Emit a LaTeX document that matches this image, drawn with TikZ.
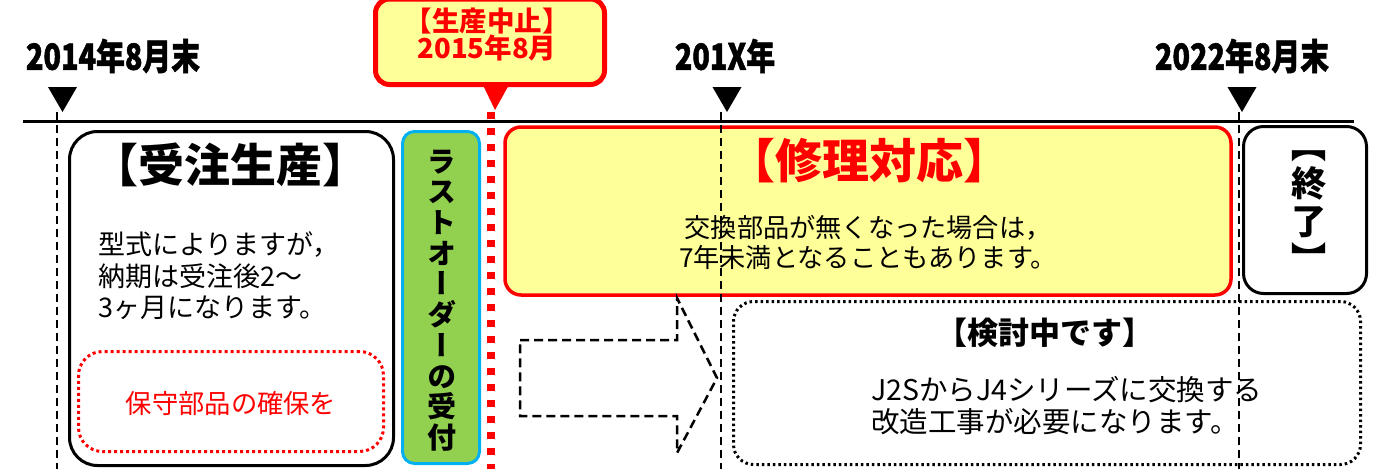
\documentclass[tikz,border=0pt]{standalone}
\usepackage{fontspec}
\setmainfont{Noto Sans CJK JP}
\newfontfamily\jpv{Noto Sans CJK JP}[RawFeature=+vert]
\newfontfamily\heavy{Noto Sans CJK JP}[BoldFeatures={FakeBold=1.6}]
\definecolor{pale}{HTML}{FFFF99}
\definecolor{grn}{HTML}{92D050}
\definecolor{sky}{HTML}{00B0F0}
\newcommand{\fsz}[1]{\fontsize{#1}{#1}\selectfont}
\begin{document}
\begin{tikzpicture}[x=1pt,y=-1pt,
  datelbl/.style={font=\heavy\fsz{36}\bfseries, inner sep=0pt},
  guide/.style={line width=1.6pt, dash pattern=on 8pt off 5pt},
  boxnode/.style={draw, line width=3pt, inner sep=0pt},
  plain/.style={inner sep=0pt}]
\useasboundingbox (0,0) rectangle (1386,469);

% date labels
\node[datelbl] (d2014) at (113,56) {\scalebox{0.8}[1]{2014年8月末}};
\node[datelbl] (d201x) at (725,56) {\scalebox{0.8}[1]{201X年}};
\node[datelbl] (d2022) at (1242,56) {\scalebox{0.8}[1]{2022年8月末}};

% markers
\coordinate (m1) at (62.5,112);
\coordinate (m2) at (727,112);
\coordinate (m3) at (1242,112);
\foreach \m in {m1,m2,m3}
  \fill (\m) -- ++(-14.5,-25) -- ++(29,0) -- cycle;

% stop callout
\node[draw=red, line width=5pt, fill=pale, rounded corners=14pt,
      minimum width=229pt, minimum height=85.5pt, inner sep=0pt] (stopbox) at (490,41.75) {};
\coordinate (stoptip) at (495,110);
\fill[red] (482,83) -- (510,83) -- (stoptip) -- cycle;
\node[plain, text=red, font=\fontsize{27.5}{27}\selectfont\bfseries, align=center] (stoptxt) at (487,35) {【生産中止】\\2015年8月};

% left box
\node[boxnode, rounded corners=28pt, minimum width=324pt, minimum height=334pt] (orderbox) at (231.5,298.5) {};
\node[plain, font=\fsz{46}\bfseries] (ordertitle) at (230,165) {【受注生産】};
\node[plain, font=\fontsize{27}{31.5}\selectfont, align=left, anchor=west] (ordertxt) at (98,276)
  {型式によりますが，\\納期は受注後2～\\3ヶ月になります。};
\node[draw=red, line width=3pt, dash pattern=on 3pt off 3pt, rounded corners=24pt,
      minimum width=305pt, minimum height=100pt, inner sep=0pt] (keepbox) at (231,401.5) {};
\node[plain, text=red, font=\fsz{26.3}] (keeptxt) at (231,403) {保守部品の確保を};

% last order box
\node[draw=sky, fill=grn, line width=3pt, rounded corners=12pt,
      minimum width=77pt, minimum height=332pt, inner sep=0pt] (lastbox) at (441,297.5) {};
\node[plain, font=\jpv\fontsize{29}{30.7}\selectfont\bfseries, align=center] (lasttxt) at (442,300.5)
  {ラ\\ス\\ト\\オ\\ー\\ダ\\ー\\の\\受\\付};

% repair box
\node[draw=red, fill=pale, line width=3.5pt, rounded corners=16pt,
      minimum width=726pt, minimum height=168pt, inner sep=0pt] (repairbox) at (868,211) {};
\node[plain, text=red, font=\fsz{47}\bfseries] (repairtitle) at (869,161) {【修理対応】};
\node[plain, font=\fontsize{26.2}{30}\selectfont, align=center] (repairtxt) at (868,242)
  {交換部品が無くなった場合は，\\7年未満となることもあります。};

% end box
\node[boxnode, rounded corners=20pt, minimum width=123pt, minimum height=167pt] (endbox) at (1305,210) {};
\node[plain, font=\jpv\fontsize{35}{38}\selectfont\bfseries, align=center] (endtxt) at (1309,212)
  {【\\終\\了\\】};

% dashed arrow
\draw[line width=2.5pt, dash pattern=on 9pt off 5pt, line join=miter]
  (520,340) -- (677,340) -- (677,298) -- (717,378) -- (677,453) -- (677,416) -- (520,416) -- cycle;

% study box
\node[draw, line width=3pt, dash pattern=on 2.5pt off 3pt, rounded corners=20pt,
      minimum width=627pt, minimum height=163pt, inner sep=0pt] (studybox) at (1047,383) {};
\node[plain, font=\fsz{31}\bfseries] (studytitle) at (1045,333) {【検討中です】};
\node[plain, font=\fontsize{28.5}{32}\selectfont, align=left, anchor=west] (studytxt) at (871,406)
  {J2SからJ4シリーズに交換する\\改造工事が必要になります。};

% guides
\coordinate (g1) at (57,112);   \coordinate (g1b) at (57,469);
\coordinate (g2) at (721,112);  \coordinate (g2b) at (721,469);
\coordinate (g3) at (1239,112); \coordinate (g3b) at (1239,469);
\draw[guide] (g1) -- (g1b);
\draw[guide] (g2) -- (g2b);
\draw[guide] (g3) -- (g3b);
\coordinate (rs) at (491,112); \coordinate (re) at (491,469);
\draw[red, line width=8pt, dash pattern=on 7pt off 9pt] (rs) -- (re);

% timeline
\coordinate (tl0) at (23,121); \coordinate (tl1) at (1354,121);
\draw[line width=3pt] (tl0) -- (tl1);
\end{tikzpicture}
\end{document}
